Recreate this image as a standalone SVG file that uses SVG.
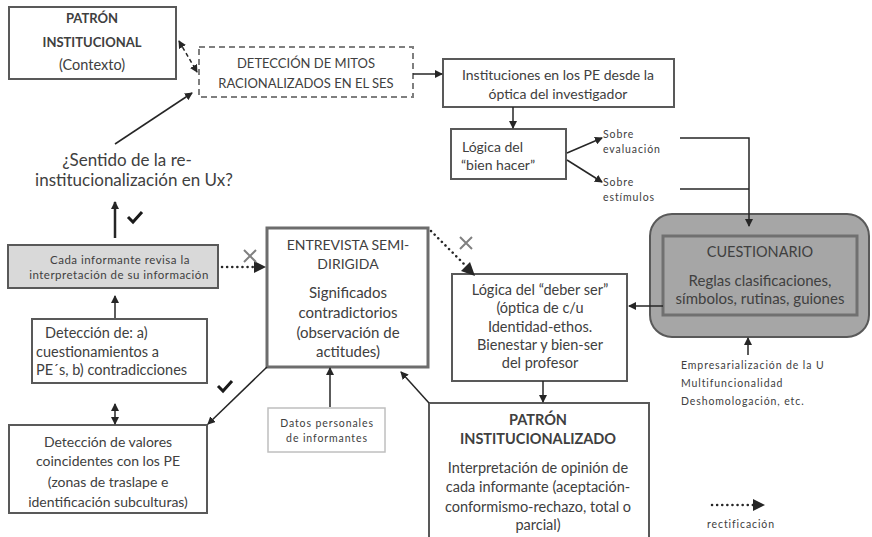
<svg xmlns="http://www.w3.org/2000/svg" width="872" height="537" viewBox="0 0 872 537">
<style>
.t{font-family:Lato,"Liberation Sans",sans-serif;fill:#404040;text-anchor:middle}
.l{text-anchor:start}
.b{font-weight:bold}
.s{font-size:10.5px;letter-spacing:0.9px}
.box{fill:#fff;stroke:#595959;stroke-width:2}
.c{fill:none;stroke:#262626;stroke-width:1.5}
.dot{fill:none;stroke:#262626;stroke-width:2.5;stroke-dasharray:0.1 5;stroke-linecap:round}
.x{stroke:#808080;stroke-width:2;fill:none}
.chk{stroke:#1a1a1a;stroke-width:3;fill:none;stroke-linejoin:miter}
</style>
<defs>
<marker id="a" markerUnits="userSpaceOnUse" markerWidth="8" markerHeight="8" refX="7" refY="4" orient="auto-start-reverse"><path d="M0,0 L8,4 L0,8 z" fill="#262626"/></marker>
</defs>

<g id="patron-institucional">
<rect class="box" x="9" y="7" width="167" height="72"/>
<text class="t b" x="92" y="23" font-size="13">PATRÓN</text>
<text class="t b" x="92" y="47" font-size="13">INSTITUCIONAL</text>
<text class="t" x="92" y="70" font-size="14.5">(Contexto)</text>
</g>

<g id="deteccion-mitos">
<rect x="199" y="47" width="214" height="50" fill="#fff" stroke="#7f7f7f" stroke-width="2" stroke-dasharray="6 4"/>
<text class="t" x="306" y="68" font-size="13">DETECCIÓN DE MITOS</text>
<text class="t" x="306" y="88" font-size="13">RACIONALIZADOS EN EL SES</text>
</g>

<g id="instituciones">
<rect class="box" x="443" y="59" width="231" height="48"/>
<text class="t" x="558" y="80" font-size="14">Instituciones en los PE desde la</text>
<text class="t" x="558" y="99" font-size="14">óptica del investigador</text>
</g>

<g id="logica-bien-hacer">
<rect class="box" x="451" y="129" width="115" height="50"/>
<text class="t l" x="462" y="152" font-size="14">Lógica del</text>
<text class="t" x="498" y="170" font-size="14">“bien hacer”</text>
</g>

<g id="sobre-evaluacion">
<text class="t l s" x="603" y="138">Sobre</text>
<text class="t l s" x="603" y="153">evaluación</text>
</g>
<g id="sobre-estimulos">
<text class="t l s" x="603" y="186">Sobre</text>
<text class="t l s" x="603" y="201">estímulos</text>
</g>

<g id="cuestionario">
<rect x="650" y="214" width="219" height="123" rx="22" fill="#a6a6a6" stroke="#595959" stroke-width="2"/>
<rect x="663" y="236" width="194" height="79" fill="#a6a6a6" stroke="#707070" stroke-width="3"/>
<text class="t" x="760" y="257" font-size="14.5">CUESTIONARIO</text>
<text class="t" x="760" y="286" font-size="15">Reglas clasificaciones,</text>
<text class="t" x="760" y="304" font-size="15">símbolos, rutinas, guiones</text>
</g>

<g id="factores">
<text class="t l s" x="681" y="369">Empresarialización de la U</text>
<text class="t l s" x="681" y="387">Multifuncionalidad</text>
<text class="t l s" x="681" y="405">Deshomologación, etc.</text>
</g>

<g id="logica-deber-ser">
<rect class="box" x="452" y="274" width="175" height="107"/>
<text class="t" x="540" y="295" font-size="14.5">Lógica del “deber ser”</text>
<text class="t" x="540" y="313" font-size="14.5">(óptica de c/u</text>
<text class="t" x="540" y="332" font-size="14.5">Identidad-ethos.</text>
<text class="t" x="540" y="350" font-size="14.5">Bienestar y bien-ser</text>
<text class="t" x="540" y="368" font-size="14.5">del profesor</text>
</g>

<g id="patron-institucionalizado">
<path d="M429,537 V403 H649 V537" fill="#fff" stroke="#595959" stroke-width="2"/>
<text class="t b" x="538" y="425" font-size="14.5">PATRÓN</text>
<text class="t b" x="538" y="444" font-size="14.5">INSTITUCIONALIZADO</text>
<text class="t" x="538" y="473" font-size="14.5">Interpretación de opinión de</text>
<text class="t" x="538" y="492" font-size="14.5">cada informante (aceptación-</text>
<text class="t" x="538" y="512" font-size="14.5">conformismo-rechazo, total o</text>
<text class="t" x="538" y="530" font-size="14.5">parcial)</text>
</g>

<g id="entrevista">
<rect x="267" y="228" width="161" height="139" fill="#fff" stroke="#6d6d6d" stroke-width="3"/>
<text class="t" x="348" y="250" font-size="14">ENTREVISTA SEMI-</text>
<text class="t" x="348" y="269" font-size="14">DIRIGIDA</text>
<text class="t" x="348" y="298" font-size="15">Significados</text>
<text class="t" x="348" y="318" font-size="15">contradictorios</text>
<text class="t" x="348" y="338" font-size="15">(observación de</text>
<text class="t" x="348" y="357" font-size="15">actitudes)</text>
</g>

<g id="sentido">
<text class="t" x="127" y="166" font-size="17">¿Sentido de la re-</text>
<text class="t" x="134" y="186" font-size="17">institucionalización en Ux?</text>
</g>

<g id="cada-informante">
<rect x="8" y="245" width="210" height="43" fill="#d9d9d9" stroke="#595959" stroke-width="2"/>
<text class="t" x="120" y="264" font-size="11.5" letter-spacing="0.5">Cada informante revisa la</text>
<text class="t" x="119" y="279" font-size="11.5" letter-spacing="0.5">interpretación de su información</text>
</g>

<g id="deteccion-cuestionamientos">
<rect class="box" x="32" y="319" width="175" height="64"/>
<text class="t l" x="45" y="338" font-size="14.5">Detección de: a)</text>
<text class="t l" x="36" y="357" font-size="14.5">cuestionamientos a</text>
<text class="t l" x="36" y="375" font-size="14.5">PE´s, b) contradicciones</text>
</g>

<g id="deteccion-valores">
<rect class="box" x="9" y="425" width="198" height="88"/>
<text class="t" x="108" y="447" font-size="14">Detección de valores</text>
<text class="t" x="108" y="466" font-size="14">coincidentes con los PE</text>
<text class="t" x="108" y="487" font-size="14">(zonas de traslape e</text>
<text class="t" x="108" y="507" font-size="14">identificación subculturas)</text>
</g>

<g id="datos-personales">
<rect x="268" y="408" width="117" height="44" fill="#fff" stroke="#bfbfbf" stroke-width="1.5"/>
<text class="t s" x="327" y="427">Datos personales</text>
<text class="t s" x="327" y="442">de informantes</text>
</g>

<g id="leyenda">
<line class="dot" x1="712" y1="505" x2="755" y2="505"/>
<path d="M753,499 L765,505 L753,511 z" fill="#262626"/>
<text class="t s" x="741" y="528">rectificación</text>
</g>

<g id="connectors">
<line x1="179" y1="41" x2="197" y2="72" fill="none" stroke="#262626" stroke-width="1.5" stroke-dasharray="4 3" marker-start="url(#a)" marker-end="url(#a)"/>
<line class="c" x1="413" y1="74" x2="442" y2="74" marker-end="url(#a)"/>
<line class="c" x1="513" y1="107" x2="513" y2="128" marker-end="url(#a)"/>
<line class="c" x1="567" y1="153" x2="602" y2="138" marker-end="url(#a)"/>
<line class="c" x1="567" y1="160" x2="602" y2="182" marker-end="url(#a)"/>
<polyline class="c" points="680,138 749,138 749,226" marker-end="url(#a)"/>
<line class="c" x1="680" y1="189" x2="749" y2="189"/>
<line class="c" x1="663" y1="306" x2="629" y2="306" marker-end="url(#a)"/>
<line class="c" x1="748" y1="355" x2="748" y2="338" marker-end="url(#a)"/>
<line class="c" x1="543" y1="381" x2="543" y2="402" marker-end="url(#a)"/>
<line class="c" x1="429" y1="403" x2="401" y2="372" marker-end="url(#a)"/>
<line class="c" x1="330" y1="407" x2="330" y2="368" marker-end="url(#a)"/>
<line class="c" x1="267" y1="367" x2="208" y2="424" marker-end="url(#a)"/>
<line class="c" x1="115" y1="144" x2="192" y2="93" marker-end="url(#a)"/>
<line x1="115" y1="238" x2="115" y2="202" stroke="#262626" stroke-width="2.5" marker-end="url(#a)"/>
<line class="c" x1="115" y1="318" x2="115" y2="296" marker-end="url(#a)"/>
<line class="c" x1="115" y1="404" x2="115" y2="424" marker-start="url(#a)" marker-end="url(#a)"/>
<line class="dot" x1="222" y1="267" x2="254" y2="267"/>
<path d="M254,261 L266,267 L254,273 z" fill="#262626"/>
<line class="dot" x1="431" y1="231" x2="464" y2="264"/>
<path d="M475,276 L461,271 L470,262 z" fill="#262626"/>
<path class="x" d="M244,250 L256,262 M256,250 L244,262"/>
<path class="x" d="M460,237 L472,249 M472,237 L460,249"/>
<path class="chk" d="M128,217 L133,222 L142,212"/>
<path class="chk" d="M218,386 L223,391 L232,381"/>
</g>
</svg>
